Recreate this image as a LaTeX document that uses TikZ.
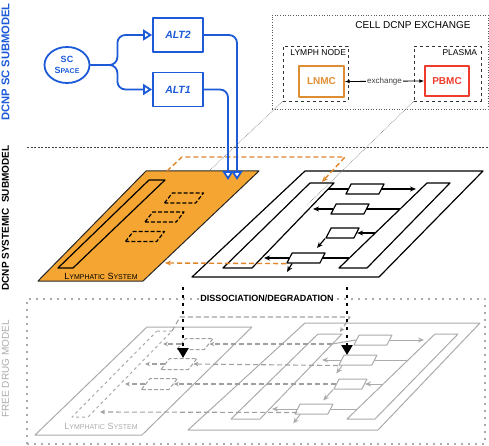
\documentclass[tikz,border=0pt]{standalone}
\usepackage{fontspec}
\setmainfont{Liberation Sans}
\usetikzlibrary{arrows.meta,positioning,shapes.geometric,calc}
\definecolor{scblue}{HTML}{1C5AD8}
\definecolor{lymphfill}{HTML}{F5A532}
\definecolor{lymphdash}{HTML}{E0852A}
\definecolor{lnmcorange}{HTML}{DD8E33}
\definecolor{pbmcred}{HTML}{EF3C2C}
\definecolor{freegray}{HTML}{ABABAB}
\definecolor{freedash}{HTML}{A0A0A0}
\newcommand{\smcap}[2]{#1{\fontsize{7}{8}\selectfont #2}}

\begin{document}
\begin{tikzpicture}[x=1pt, y=-1pt, font=\fontsize{8.5}{10}\selectfont, >={Stealth[length=6pt, width=5pt]}, line join=round,
  sidelabel/.style={rotate=90, font=\bfseries\fontsize{10}{12}\selectfont},
  blueflow/.style={draw=scblue, line width=1.8pt, rounded corners=8pt, -{Triangle[fill=white, length=9pt, width=11pt]}},
  bluebox/.style={draw=scblue, line width=1.8pt, text=scblue, minimum width=50, minimum height=34, font=\bfseries\itshape\fontsize{10.5}{12}\selectfont},
  cellbox/.style={draw, line width=1.2pt, fill=white, trapezium, trapezium left angle=63, trapezium right angle=117, trapezium stretches body, minimum width=38, inner xsep=0pt, inner ysep=5pt},
  lymphbox/.style={cellbox, fill=none, dash pattern=on 4pt off 2pt, trapezium left angle=52, trapezium right angle=128, minimum width=39},
  freecell/.style={cellbox, draw=freegray, line width=1pt},
  freelymph/.style={lymphbox, draw=freedash, line width=1pt, minimum width=36, inner ysep=5.5pt},
  sysline/.style={line width=1.2pt},
  freeline/.style={draw=freegray, line width=1pt},
  lymphflow/.style={draw=lymphdash, line width=1.4pt, dash pattern=on 5pt off 3pt, -{Stealth[length=6pt, width=5pt]}},
  freeflow/.style={draw=freedash, line width=1.1pt, dash pattern=on 5pt off 3pt, -{Stealth[length=5pt, width=4.5pt]}},
  dissocflow/.style={line width=2.5pt, dash pattern=on 2.5pt off 5.5pt, -{Triangle[length=10pt, width=11pt]}}
]
\useasboundingbox (0,0) rectangle (489,446);

\node[sidelabel, text=scblue, font=\bfseries\fontsize{11.2}{13}\selectfont] (sclabel) at (5.5,62) {DCNP SC SUBMODEL};
\node[sidelabel] (syslabel) at (5.5,218) {DCNP SYSTEMIC\ \ SUBMODEL};
\node[sidelabel, text=freegray, font=\fontsize{10}{12}\selectfont] (freelabel) at (5.5,369) {FREE DRUG MODEL};

\node[draw=scblue, ellipse, line width=1.8pt, minimum width=45, minimum height=36, inner sep=0pt, align=center, text=scblue, font=\bfseries\fontsize{9}{11}\selectfont] (scspace) at (67,65) {SC\\\smcap{S}{PACE}};
\node[bluebox] (alt2) at (178,35) {ALT2};
\node[bluebox] (alt1) at (178,89.5) {ALT1};
\draw[blueflow] (scspace.east) -- ++(27,0) |- (alt2.west);
\draw[blueflow] (scspace.east) -- ++(27,0) |- (alt1.west);

\node[draw=black!65, line width=0.6pt, dotted, minimum width=216, minimum height=94] (cellx) at (380,62) {};
\node[anchor=east, font=\fontsize{10}{12}\selectfont] (cellxlabel) at (474,25) {CELL DCNP EXCHANGE};
\node[draw=black!80, dashed, minimum width=65, minimum height=55] (lnbox) at (315.5,73.5) {};
\node[anchor=north east, inner sep=1pt] (lnlabel) at ($(lnbox.north east)+(-1,2.5)$) {LYMPH NODE};
\node[draw=lnmcorange, line width=1.4pt, minimum width=45, minimum height=31, text=lnmcorange, font=\bfseries\fontsize{10}{12}\selectfont] (lnmc) at (321.5,81.5) {LNMC};
\node[draw=black!80, dashed, minimum width=67, minimum height=55] (plbox) at (447.5,73.5) {};
\node[anchor=north east, inner sep=1pt] (pllabel) at ($(plbox.north east)+(-3,2.5)$) {PLASMA};
\node[draw=pbmcred, line width=1.4pt, minimum width=44, minimum height=30, text=pbmcred, font=\bfseries\fontsize{10}{12}\selectfont] (pbmc) at (447,81) {PBMC};
\draw[{Latex[length=5pt]}-{Latex[length=5pt]}, line width=0.8pt] (lnmc.east) -- node[fill=white, inner sep=1pt, font=\fontsize{8}{9}\selectfont, text=black!75] {exchange} (pbmc.west);

\draw[black!75, line width=0.6pt, dash pattern=on 2pt off 1.5pt] (27,147) -- (489,147);

\draw[fill=lymphfill, draw=black!85, line width=1pt] (146,171) -- (259,171) -- (143,281) -- (38,281) -- cycle;
\draw[sysline] (149,180) -- (165,180) -- (73,268) -- (58,268) -- cycle;
\node[lymphbox] (la) at (184,198) {};
\node[lymphbox] (lb) at (164.5,217) {};
\node[lymphbox] (lc) at (145,236.5) {};
\node[font=\fontsize{9}{10}\selectfont] (lsyslabel) at (101,276) {\smcap{L}{YMPHATIC} \smcap{S}{YSTEM}};

\draw[sysline, fill=white] (305,171) -- (483,171) -- (379,277) -- (192,277) -- cycle;
\draw[sysline] (310,183) -- (334,183) -- (252,268) -- (223,268) -- cycle;
\draw[sysline] (427,183) -- (450,183) -- (367,268) -- (339,268) -- cycle;
\node[cellbox] (c1) at (365,189) {};
\node[cellbox] (c2) at (350,209) {};
\node[cellbox, minimum width=33] (c3) at (342.5,233) {};
\node[cellbox] (c4) at (306,258) {};
\coordinate (lb1) at (328,189);
\coordinate (rb1) at (416,189);
\coordinate (lb2) at (313,209);
\coordinate (rb2) at (400,209);
\coordinate (rb3) at (375,233);
\coordinate (c3down) at (317,248);
\coordinate (lb4) at (264,258);
\coordinate (rb4) at (349,258);
\coordinate (c4down) at (287,272);
\draw[sysline] (lb1) -- (c1.west);
\draw[sysline, ->] (c1.east) -- (rb1);
\draw[sysline] (c2.east) -- (rb2);
\draw[sysline, ->] (c2.west) -- (lb2);
\draw[sysline, ->] (rb3) -- (c3.east);
\draw[sysline, ->] (c3.bottom left corner) -- (c3down);
\draw[sysline] (c4.east) -- (rb4);
\draw[sysline, ->] (c4.west) -- (lb4);
\draw[sysline, ->] ($(c4.bottom left corner)+(6,0)$) -- (c4down);

\coordinate (lymphout) at (167,171);
\coordinate (plasmain) at (322,182);
\coordinate (lymphin) at (165,263);
\draw[lymphflow] (lymphout) -- ++(15,-14) -- ++(163,0) -- (plasmain);
\draw[lymphflow] (c4.bottom left corner) -- (lymphin);

\coordinate (sysin1) at (228,180);
\coordinate (sysin2) at (237,180);
\draw[blueflow] (alt2.east) -| (sysin2);
\draw[blueflow] (alt1.east) -| (sysin1);

\coordinate (lymphtop) at (209,171);
\coordinate (plasmatop) at (307,205);
\draw[black!55, line width=0.6pt, densely dotted] (lnbox.south west) -- (lymphtop);
\draw[black!55, line width=0.6pt, densely dotted] (plbox.south west) -- (plasmatop);

\node[draw=freegray, line width=1.6pt, dash pattern=on 1.6pt off 5.4pt, minimum width=458, minimum height=145] (freemodel) at (256,371.5) {};

\draw[freeline] (147,327) -- (252,327) -- (142,435) -- (35,435) -- cycle;
\draw[freeline, dashed] (157,331) -- (172,331) -- (88,417) -- (72,417) -- cycle;
\node[freelymph] (l1) at (195,344) {};
\node[freelymph] (l2) at (179,364) {};
\node[freelymph] (l3) at (159.5,384) {};
\node[font=\fontsize{9}{10}\selectfont, text=freegray] (flsyslabel) at (101,426) {\smcap{L}{YMPHATIC} \smcap{S}{YSTEM}};

\draw[freeline] (305,323) -- (480,323) -- (378,430) -- (188,430) -- cycle;
\draw[freeline] (318,334) -- (342,334) -- (260,419) -- (231,419) -- cycle;
\draw[freeline] (435,334) -- (458,334) -- (375,419) -- (347,419) -- cycle;
\node[freecell] (d1) at (373,340) {};
\node[freecell] (d2) at (358,360) {};
\node[freecell, minimum width=33] (d3) at (350.5,384) {};
\node[freecell] (d4) at (314,409) {};
\coordinate (fb1) at (332,344);
\coordinate (fr1) at (424,340);
\coordinate (fl2) at (322,360);
\coordinate (fr2) at (408,360);
\coordinate (fr3) at (382,384);
\coordinate (fl4) at (272,409);
\coordinate (fr4) at (357,409);
\draw[freeline] (fb1) -- (d1.west);
\draw[freeline, ->] (d1.east) -- (fr1);
\draw[freeline] (d2.east) -- (fr2);
\draw[freeline, ->] (d2.west) -- (fl2);
\draw[freeline, ->] ($(d2.bottom left corner)+(4,0)$) -- ++(-6,8);
\draw[freeline, ->] (fr3) -- (d3.east);
\draw[freeline, ->] (d3.bottom left corner) -- ++(-10,11);
\draw[freeline] (d4.east) -- (fr4);
\draw[freeline, ->] (d4.west) -- (fl4);
\draw[freeline, ->] ($(d4.bottom left corner)+(6,0)$) -- ++(-7,9);

\coordinate (fbar1) at (163,344);
\coordinate (fbar2) at (145,364);
\coordinate (fbar3) at (125,384);
\coordinate (fbar4) at (100,412);
\coordinate (fbartop) at (172,331);
\coordinate (fplasmain) at (340,332);
\draw[freeflow] (fb1) -- (l1.east);
\draw[freeflow] (l1.west) -- (fbar1);
\draw[freeflow] (d2.bottom left corner) -- (l2.east);
\draw[freeflow] (l2.west) -- (fbar2);
\draw[freeflow] (d3.west) -- (l3.east);
\draw[freeflow] (l3.west) -- (fbar3);
\draw[freeflow] ($(d4.bottom left corner)+(3,-2)$) -- (fbar4);
\draw[freeflow] (fbartop) -- ++(8,-14) -- ++(170,0) -- (fplasmain);

\coordinate (dissocl) at (183,287);
\coordinate (dissocr) at (347,287);
\coordinate (freeinl) at (183,358);
\coordinate (freeinr) at (347,355);
\draw[dissocflow] (dissocl) -- (freeinl);
\draw[dissocflow] (dissocr) -- (freeinr);
\node[fill=white, inner sep=1.5pt, font=\bfseries\fontsize{9}{11}\selectfont] (dissoc) at (267,298) {DISSOCIATION/DEGRADATION};
\end{tikzpicture}
\end{document}
